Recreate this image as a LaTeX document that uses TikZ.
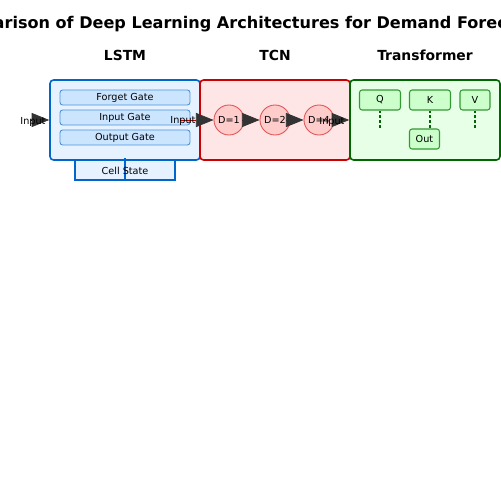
\documentclass[tikz,border=0pt]{standalone}
\usepackage{fontspec}
\setmainfont{DejaVu Sans}
\usepackage{xcolor}
\usetikzlibrary{arrows.meta}

\definecolor{lstmline}{HTML}{0066CC}
\definecolor{lstmfill}{HTML}{E6F2FF}
\definecolor{gatefill}{HTML}{CCE5FF}
\definecolor{gateline}{HTML}{4A90D9}
\definecolor{tcnline}{HTML}{CC0000}
\definecolor{tcnfill}{HTML}{FFE6E6}
\definecolor{dilfill}{HTML}{FFCCCC}
\definecolor{dilline}{HTML}{E05555}
\definecolor{trfline}{HTML}{006600}
\definecolor{trffill}{HTML}{E6FFE6}
\definecolor{attfill}{HTML}{CCFFCC}
\definecolor{attline}{HTML}{339933}
\definecolor{arrowgray}{HTML}{333333}

\begin{document}
\begin{tikzpicture}[x=0.02cm, y=-0.02cm,
    small/.style={font=\fontsize{5.5}{6.5}\selectfont},
    head/.style={font=\bfseries\fontsize{7.9}{9}\selectfont},
    panel/.style={draw, line width=0.9pt, rounded corners=2pt,
      minimum width=3cm, minimum height=1.6cm},
    gatebox/.style={small, draw=gateline, fill=gatefill, line width=0.5pt,
      rounded corners=1.5pt, minimum width=2.6cm, minimum height=0.3cm, inner sep=0pt},
    dil/.style={small, circle, draw=dilline, fill=dilfill, line width=0.5pt,
      minimum size=0.6cm, inner sep=0pt},
    attbox/.style={small, draw=attline, fill=attfill, line width=0.6pt,
      rounded corners=1.5pt, minimum height=0.4cm, inner sep=0pt},
    link/.style={trfline, line width=0.9pt, dash pattern=on 1.6pt off 1.2pt},
    flow/.style={-{Triangle[length=10pt, width=8pt, color=arrowgray]}}
  ]
  \useasboundingbox (0,0) rectangle (500,500);

  \node[font=\bfseries\fontsize{9.15}{11}\selectfont] (title) at (253,24)
    {Comparison of Deep Learning Architectures for Demand Forecasting};

  \node[head] (lstmtitle) at (125,55) {LSTM};
  \node[head] (tcntitle)  at (275,55) {TCN};
  \node[head] (trftitle)  at (425,55) {Transformer};

  % LSTM
  \node[small, draw=lstmline, fill=lstmfill, line width=0.9pt,
    minimum width=2cm, minimum height=0.42cm, inner sep=0pt] (cell) at (125,169.5) {};
  \node[panel, draw=lstmline, fill=lstmfill] (lstm) at (125,120) {};
  \node[gatebox] (forget) at (125,97.5)  {Forget Gate};
  \node[gatebox] (ingate) at (125,117.5) {Input Gate};
  \node[gatebox] (outgate) at (125,137.5) {Output Gate};
  \draw[lstmline, line width=0.9pt] (cell.north) -- (cell.south);
  \node[small] (celltext) at (125,171) {Cell State};

  \coordinate (lstmin) at (31,120);
  \draw[flow] (lstmin) -- (lstm.west);
  \node[small] (lstminput) at (33,122) {Input};

  % TCN
  \node[panel, draw=tcnline, fill=tcnfill] (tcn) at (275,120) {};
  \node[dil] (d1) at (229,120) {D=1};
  \node[dil] (d2) at (275,120) {D=2};
  \node[dil] (d3) at (319,120) {D=4};

  \coordinate (tcnin) at (180,120);
  \draw[flow, draw=tcnline] (tcnin) -- (d1.west);
  \draw[flow] (d1.east) -- (d2.west);
  \draw[flow] (d2.east) -- (d3.west);
  \node[small] (tcninput) at (183,121) {Input};

  % Transformer
  \node[panel, draw=trfline, fill=trffill] (trf) at (425,120) {};
  \node[attbox, minimum width=0.82cm] (q) at (380,100) {Q};
  \node[attbox, minimum width=0.82cm] (k) at (430,100) {K};
  \node[attbox, minimum width=0.6cm]  (v) at (475,100) {V};
  \node[attbox, minimum width=0.6cm]  (out) at (424.5,139) {Out};
  \coordinate (qend) at (380,128);
  \coordinate (vend) at (475,128);
  \draw[link] (q.south) -- (qend);
  \draw[link] (k.south) -- (k.south |- out.north);
  \draw[link] (v.south) -- (vend);

  \draw[flow] (d3.east) -- (trf.west);
  \node[small] (trfinput) at (332,122) {Input};
\end{tikzpicture}
\end{document}
